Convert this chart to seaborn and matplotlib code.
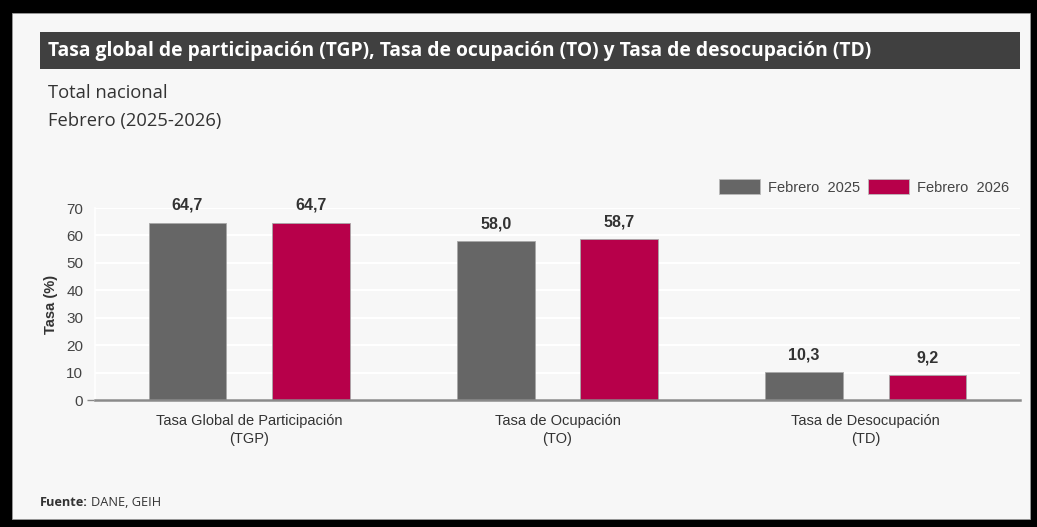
"""
Tasa global de participación, ocupación y desocupación - Febrero 2025 vs 2026.
"""

import matplotlib
matplotlib.use("Agg")
import matplotlib.pyplot as plt
import matplotlib.patches as mpatches
import pandas as pd
import seaborn as sns

# ── Data ──────────────────────────────────────────────────────────────────────

categories = [
    "Tasa Global de Participación\n(TGP)",
    "Tasa de Ocupación\n(TO)",
    "Tasa de Desocupación\n(TD)",
]
series_names = ["Febrero  2025", "Febrero  2026"]
feb_2025 = [64.7, 58.0, 10.3]
feb_2026 = [64.7, 58.7, 9.2]
y_ticks = [0, 10, 20, 30, 40, 50, 60, 70]

colors = ["#666666", "#b7004a"]
BG = "#f7f7f7"
NARROW = ["Liberation Sans Narrow", "Liberation Sans", "DejaVu Sans"]
OPEN = ["Open Sans", "DejaVu Sans"]

df = pd.DataFrame({
    "categoria": categories * 2,
    "serie": [series_names[0]] * 3 + [series_names[1]] * 3,
    "tasa": feb_2025 + feb_2026,
})

# ── Figure ────────────────────────────────────────────────────────────────────

sns.set_style("white")
W, H = 1037, 527
fig = plt.figure(figsize=(W / 100, H / 100), dpi=100, facecolor="black")

# inner light panel (black frame around it, as in the screenshot)
fig.patches.append(mpatches.Rectangle(
    (12 / W, 1 - 519 / H), (1030 - 12) / W, (519 - 13) / H,
    transform=fig.transFigure, facecolor=BG, edgecolor="#9a9a9a", linewidth=0.6,
    zorder=-10,
))

# title bar
fig.patches.append(mpatches.Rectangle(
    (40 / W, 1 - 69 / H), (1020 - 40) / W, 37 / H,
    transform=fig.transFigure, facecolor="#404040", edgecolor="none", zorder=1,
))
fig.text(48 / W, 1 - 51 / H,
         "Tasa global de participación (TGP), Tasa de ocupación (TO) y Tasa de desocupación (TD)",
         color="white", fontsize=13.85, fontweight="bold", family=OPEN,
         va="center", ha="left", zorder=2)

fig.text(48 / W, 1 - 93 / H, "Total nacional", color="#333333",
         fontsize=13.2, family=OPEN, va="center", ha="left")
fig.text(48 / W, 1 - 121 / H, "Febrero (2025-2026)", color="#333333",
         fontsize=13.2, family=OPEN, va="center", ha="left")

# ── Bars ──────────────────────────────────────────────────────────────────────

ax = fig.add_axes([95 / W, 1 - 400 / H, (1020 - 95) / W, (400 - 208) / H])
ax.set_facecolor(BG)

sns.barplot(
    data=df, x="categoria", y="tasa", hue="serie",
    palette=colors, width=0.8, gap=0.37, ax=ax,
    edgecolor="#a8a8a8", linewidth=0.6, saturation=1, legend=False,
)

ax.set_xlim(-0.5, 2.5)
ax.set_ylim(0, 70)
ax.set_yticks(y_ticks)
ax.set_yticklabels([str(t) for t in y_ticks], family=NARROW, fontsize=11, color="#444444")
ax.set_xticks(range(len(categories)))
ax.set_xticklabels(categories, family=NARROW, fontsize=10.5, color="#333333", linespacing=1.35)
ax.tick_params(axis="both", length=0)
ax.tick_params(axis="y", pad=8.5)
ax.tick_params(axis="x", pad=10)

# small tick at zero only
ax.yaxis.remove_overlapping_locs = False
ax.set_yticks([0], minor=True)
ax.tick_params(axis="y", which="minor", left=True, length=6, width=1, color="#888888")

ax.grid(axis="y", color="white", linewidth=1.6)
ax.set_axisbelow(True)
for s in ["top", "right"]:
    ax.spines[s].set_visible(False)
ax.spines["left"].set_color("white")
ax.spines["left"].set_linewidth(1.2)
ax.spines["bottom"].set_color("#8a8a8a")
ax.spines["bottom"].set_linewidth(1.8)
ax.spines["bottom"].set_zorder(5)

ax.set_xlabel("")
ax.set_ylabel("Tasa (%)", family=["Liberation Sans", "DejaVu Sans"], fontsize=10.5,
              fontweight="bold", color="#333333", labelpad=6)

for cont in ax.containers:
    for bar in cont:
        h = bar.get_height()
        ax.annotate(f"{h:.1f}".replace(".", ","),
                    (bar.get_x() + bar.get_width() / 2, h),
                    xytext=(0, 7), textcoords="offset points",
                    ha="center", va="bottom", fontsize=11.5, fontweight="bold",
                    family=NARROW, color="#333333", clip_on=False)

handles = [mpatches.Patch(facecolor=c, edgecolor="#bbbbbb", linewidth=0.6) for c in colors]
fig.legend(handles, series_names, loc="center right",
           bbox_to_anchor=(1016 / W, 1 - 187 / H), ncol=2, frameon=False,
           prop={"family": NARROW, "size": 10.5}, labelcolor="#444444",
           handlelength=2.8, handleheight=1.15, handletextpad=0.55,
           columnspacing=0.55, borderpad=0)

# ── Source ────────────────────────────────────────────────────────────────────

t1 = fig.text(40 / W, 1 - 502 / H, "Fuente:", color="#333333", fontsize=9.2,
              fontweight="bold", family=OPEN, va="center", ha="left")
fig.canvas.draw()
bb = t1.get_window_extent()
fig.text((bb.x1 + 3) / W, 1 - 502 / H, "DANE, GEIH", color="#333333",
         fontsize=9.2, family=OPEN, va="center", ha="left")

fig.savefig("out.png", dpi=100, facecolor=fig.get_facecolor())
plt.close(fig)
